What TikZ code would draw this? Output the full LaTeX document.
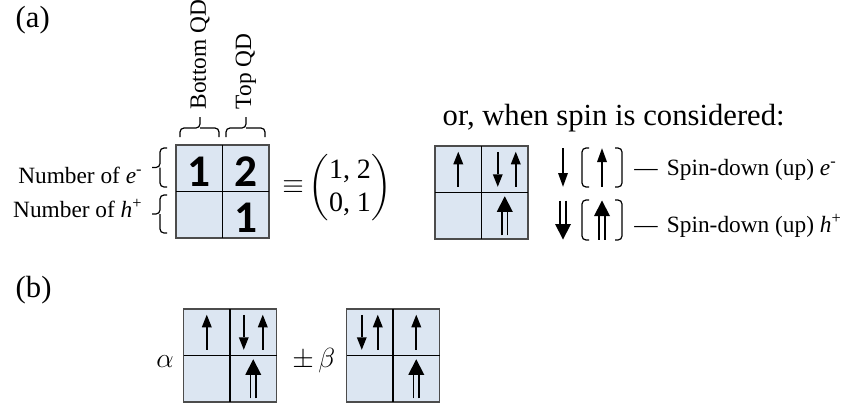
\documentclass[tikz,border=0pt]{standalone}
\usepackage{amsmath}
\usepackage{fontspec}
\setmainfont{Liberation Serif}
\newfontfamily\numfont{Carlito}
\usetikzlibrary{positioning}
\definecolor{cellblue}{RGB}{220,230,242}

\begin{document}
\begin{tikzpicture}[
    x=0.75pt, y=-0.75pt,
    qdcell/.style={fill=cellblue, minimum size=34.875pt, inner sep=0pt, outer sep=0pt},
    gridout/.style={draw=black!70, line width=0.8pt},
    gridin/.style={draw=black, line width=1.3pt},
    mybracket/.style={line width=0.9pt, rounded corners=3pt},
    mylabel/.style={font=\fontsize{17.5}{21}\selectfont},
    mytitle/.style={font=\fontsize{23}{27}\selectfont},
    mymath/.style={font=\fontsize{21}{25}\selectfont},
    mydigit/.style={font=\fontsize{34}{36}\selectfont\numfont\bfseries, inner sep=0pt},
    eup/.pic={
        \draw[line width=1.5pt] (0,17.5) -- (0,-5);
        \fill (-5,-5) -- (5,-5) -- (0,-17.5) -- cycle;
    },
    edown/.pic={
        \draw[line width=1.5pt] (0,-17.5) -- (0,5);
        \fill (-5,5) -- (5,5) -- (0,17.5) -- cycle;
    },
    hup/.pic={
        \draw[line width=1.3pt] (-2.7,19.5) -- (-2.7,-4) (2.7,19.5) -- (2.7,-4);
        \fill (-8,-4) -- (8,-4) -- (0,-19.5) -- cycle;
    },
    hdown/.pic={
        \draw[line width=1.3pt] (-2.7,-19.5) -- (-2.7,4) (2.7,-19.5) -- (2.7,4);
        \fill (-8,4) -- (8,4) -- (0,19.5) -- cycle;
    }
]
    \useasboundingbox (0,0) rectangle (845,404);

    % Grids (a = top left, b = top right, c = bottom left, d = bottom right)
    \foreach \g/\cx/\cy in {g1/222.5/191.5, g2/481.5/192.5, g3/230/355.5, g4/393/355.5}{
        \coordinate (\g-o) at (\cx,\cy);
        \node[qdcell, anchor=south east] (\g-a) at (\g-o) {};
        \node[qdcell, anchor=south west] (\g-b) at (\g-o) {};
        \node[qdcell, anchor=north east] (\g-c) at (\g-o) {};
        \node[qdcell, anchor=north west] (\g-d) at (\g-o) {};
        \draw[gridout] (\g-a.north west) rectangle (\g-d.south east);
        \draw[gridin] (\g-a.north east) -- (\g-c.south east) (\g-a.south west) -- (\g-b.south east);
    }

    % Part (a): occupation numbers
    \node[mytitle, anchor=base west] (parta) at (11,27) {(a)};
    \node[mydigit] (n1) at ([yshift=-2.5pt]g1-a) {1};
    \node[mydigit] (n2) at ([yshift=-2.5pt]g1-b) {2};
    \node[mydigit] (n3) at ([yshift=-2.5pt]g1-d) {1};

    % column braces
    \draw[mybracket] (180,137) |- (200,128) -- (200,117) (219,137) |- (200,128);
    \draw[mybracket] (226,137) |- (246,128) -- (246,117) (265,137) |- (246,128);
    \node[mylabel, rotate=90, anchor=west] (botqd) at (200,114) {Bottom QD};
    \node[mylabel, rotate=90, anchor=west] (topqd) at (246,114) {Top QD};

    % row braces
    \draw[mybracket] (167,148) -| (160,167.5) -- (152,167.5) (167,187) -| (160,167.5);
    \draw[mybracket] (167,195) -| (160,214) -- (152,214) (167,233) -| (160,214);
    \node[mylabel, anchor=base east] (numel) at (147,183) {Number of \textit{e}\textsuperscript{-}};
    \node[mylabel, anchor=base east] (numho) at (147,217) {Number of \textit{h}\textsuperscript{+}};

    \node[mymath] (equiv) at (293,187) {$\equiv$};
    \node[mymath] (mat) at (350,188) {$\begin{pmatrix}\text{1, 2}\\\text{0, 1}\end{pmatrix}$};

    % Spin picture
    \node[mytitle, anchor=base west] (spinhead) at (438,125) {or, when spin is considered:};
    \pic at (g2-a) {eup};
    \pic at ([shift={(-7,0)}]g2-b) {edown};
    \pic at ([shift={(11,0)}]g2-b) {eup};
    \pic at (g2-d) {hup};

    % Legend
    \pic[yscale=1.1] at (563,167.5) {edown};
    \draw[mybracket] (589,148) -- (582,148) -- (582,187) -- (589,187);
    \pic[yscale=1.1] at (602,167.5) {eup};
    \draw[mybracket] (615,148) -- (622,148) -- (622,187) -- (615,187);
    \node[mylabel, anchor=base west, inner sep=0pt] (legel) at (634,175) {---\hspace{7pt}Spin-down (up) \textit{e}\textsuperscript{-}};

    \pic at (563,220) {hdown};
    \draw[mybracket] (589,200) -- (582,200) -- (582,240) -- (589,240);
    \pic at (602,220) {hup};
    \draw[mybracket] (615,200) -- (622,200) -- (622,240) -- (615,240);
    \node[mylabel, anchor=base west, inner sep=0pt] (legho) at (634,232) {---\hspace{7pt}Spin-down (up) \textit{h}\textsuperscript{+}};

    % Part (b): superposition
    \node[mytitle, anchor=base west] (partb) at (11,297) {(b)};
    \node[mymath, anchor=base] (alpha) at (165,367) {$\alpha$};
    \node[mymath, anchor=base west, inner sep=0pt] (pmbeta) at (292,367) {$\pm\,\beta$};

    \pic at (g3-a) {eup};
    \pic at ([shift={(-9.5,0)}]g3-b) {edown};
    \pic at ([shift={(9.5,0)}]g3-b) {eup};
    \pic at (g3-d) {hup};

    \pic at ([shift={(-8,0)}]g4-a) {edown};
    \pic at ([shift={(8,0)}]g4-a) {eup};
    \pic at (g4-b) {eup};
    \pic at (g4-d) {hup};
\end{tikzpicture}
\end{document}
